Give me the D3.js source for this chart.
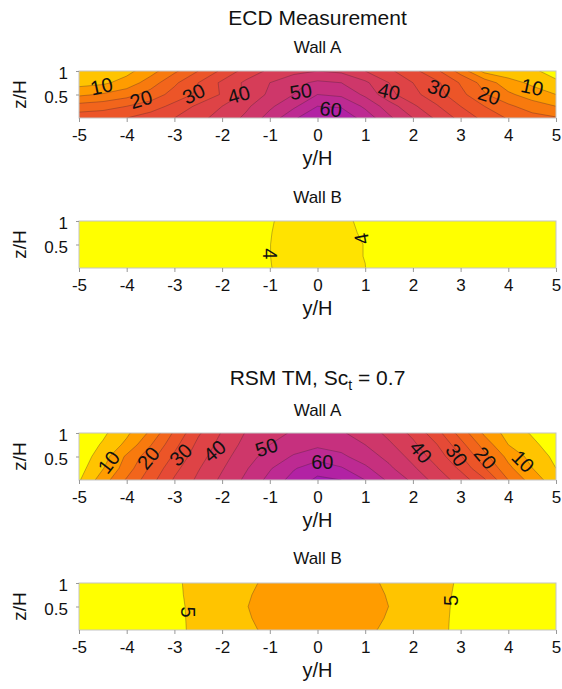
<!DOCTYPE html>
<html><head><meta charset="utf-8">
<script src="https://cdn.jsdelivr.net/npm/d3@7"></script>
<style>
body{margin:0;background:#fff}
text{font-family:"Liberation Sans",Arial,Helvetica,sans-serif;fill:#111}
</style>
</head><body>
<svg id="c" width="562" height="689"></svg>
<script>
// ---------------- DATA ----------------
const yCoords = [-5,-4.5,-4,-3.5,-3,-2.5,-2,-1.5,-1,-0.5,0,0.5,1,1.5,2,2.5,3,3.5,4,4.5,5];
const zRows = [1, 0.75, 0.5, 0.25, 0];   // grid rows, top to bottom
const xTicks = [-5,-4,-3,-2,-1,0,1,2,3,4,5];
const zTicks = [0.5, 1];

// ECD Measurement, Wall A (rows z = 1, 0.75, 0.5, 0.25, 0)
const ecdWallA = [
  [6, 7, 8.5, 13, 19, 25, 31, 37, 41, 43.5, 45,   44, 40, 36, 31.5, 26, 18, 8.5, 7, 5.7, 3.5],
  [8, 9, 12, 17.5, 24, 30, 36, 41, 45, 48.5, 51,  50, 46, 40, 35, 31, 24.5, 18, 12, 9, 5.7],
  [14, 15.5, 18, 22, 27, 31, 35.5, 41, 46, 50, 55, 54, 49, 41.5, 36.5, 32, 26.5, 20.5, 16, 12.5, 10],
  [22, 23, 25, 27.5, 31.5, 36, 40, 44, 49, 54, 60, 59.5, 54, 47.5, 41, 35.5, 30, 25, 21, 17.5, 15],
  [28, 28.5, 30, 32.5, 35, 38.5, 42, 46, 52, 59, 65, 63.5, 58, 51, 45, 39, 33.5, 28.5, 24.5, 22, 20.5]
];
// ECD Measurement, Wall B
const ecdWallB = [
  [3, 3, 3, 3, 3, 3, 3, 3, 3.93, 4.3, 4.4, 4.3, 3.7,  3, 3, 3, 3, 3, 3, 3, 3],
  [3, 3, 3, 3, 3, 3, 3, 3, 3.97, 4.3, 4.4, 4.3, 3.85, 3, 3, 3, 3, 3, 3, 3, 3],
  [3, 3, 3, 3, 3, 3, 3, 3, 3.99, 4.3, 4.4, 4.3, 3.97, 3, 3, 3, 3, 3, 3, 3, 3],
  [3, 3, 3, 3, 3, 3, 3, 3, 3.99, 4.3, 4.4, 4.3, 3.97, 3, 3, 3, 3, 3, 3, 3, 3],
  [3, 3, 3, 3, 3, 3, 3, 3, 3.97, 4.3, 4.4, 4.3, 4.02, 3, 3, 3, 3, 3, 3, 3, 3]
];
// RSM TM, Sc_t = 0.7, Wall A
const rsmWallA = [
  [1, 4, 9, 16, 25.9, 34.3, 40.4, 45.3, 48.5, 50.5, 51.5, 50.5, 48, 43.6, 38.8, 31.9, 23, 14.1, 8.1, 4.5, 2],
  [1.5, 5.6, 11.3, 19.7, 28.5, 36.3, 41.8, 46.5, 50, 52.5, 54, 53, 50, 45.9, 41.1, 35.2, 26.8, 17.9, 10, 6.1, 2.5],
  [2, 7.6, 15.9, 23, 30.9, 38, 43.2, 48, 52, 55.5, 58, 56, 52.5, 48.5, 43.3, 37.7, 30.5, 21.5, 13.6, 8.3, 3.7],
  [3, 9.7, 17.5, 25.8, 33.5, 39.6, 44.6, 49.5, 54.5, 59.5, 63, 60.5, 56, 51, 45.8, 40.4, 34, 25.4, 16.2, 10.1, 5],
  [4.5, 12.6, 20.6, 28.1, 35.6, 41, 46, 51, 56.5, 62, 66, 65, 60, 54, 49, 42.9, 37.9, 30.7, 20, 12.7, 7.1]
];
// RSM TM, Sc_t = 0.7, Wall B
const rsmWallB = [
  [4.2, 4.3, 4.4, 4.5, 4.75, 5.5, 7, 8.5,  11.5, 12, 12, 12, 11.5, 9,    7, 5.5, 4.8,  4.5, 4.4, 4.3, 4.2],
  [4.2, 4.3, 4.4, 4.5, 4.7,  5.5, 7, 9.5,  11.5, 12, 12, 12, 11.5, 9.7,  7, 5.5, 4.7,  4.5, 4.4, 4.3, 4.2],
  [4.2, 4.3, 4.4, 4.5, 4.6,  5.5, 7, 9.85, 11.5, 12, 12, 12, 11.5, 9.97, 7, 5.5, 4.62, 4.5, 4.4, 4.3, 4.2],
  [4.2, 4.3, 4.4, 4.5, 4.55, 5.5, 7, 9.5,  11.5, 12, 12, 12, 11.5, 9.6,  7, 5.5, 4.55, 4.5, 4.4, 4.3, 4.2],
  [4.2, 4.3, 4.4, 4.5, 4.5,  5.5, 7, 8.5,  11.5, 12, 12, 12, 11.5, 8.5,  7, 5.5, 4.5,  4.5, 4.4, 4.3, 4.2]
];

const levelsWallA = [0,5,10,15,20,25,30,35,40,45,50,55,60,65];
const levelsEcdB = [0,4,8];
const levelsRsmB = [0,5,10,15];

// contour labels: [y, z, text, angle]
const ecdALabels = [[-4.53,0.68,"10",-12],[-3.7,0.4,"20",-16],[-2.6,0.52,"30",-26],[-1.65,0.5,"40",-16],[-0.35,0.57,"50",-8],[0.28,0.19,"60",6],
                    [1.5,0.57,"40",12],[2.55,0.62,"30",22],[3.6,0.48,"20",18],[4.5,0.66,"10",12]];
const ecdBLabels = [[-1.0,0.3,"4",90],[0.92,0.62,"4",-100]];
const rsmALabels = [[-4.38,0.38,"10",-52],[-3.55,0.47,"20",-50],[-2.87,0.54,"30",-45],[-2.16,0.62,"40",-40],[-1.07,0.7,"50",-18],[0.1,0.38,"60",0],
                    [2.17,0.6,"40",50],[2.92,0.53,"30",55],[3.52,0.47,"20",50],[4.31,0.4,"10",45]];
const rsmBLabels = [[-2.72,0.38,"5",90],[2.8,0.63,"5",-90]];

// ---------------- DRAW ----------------
const svg = d3.select("#c");
const x = d3.scaleLinear().domain([-5,5]).range([79,556]);
const PH = 47;
const color = d3.scaleLinear()
  .domain([0,4,5,10,15,20,25,30,35,40,45,50,55,60,65])
  .range(["#ffff00","#ffe300","#ffc400","#ff9c00","#f87a0e","#f2651c","#ec5528","#e54a36","#de4346","#d63d58","#ce376a","#c6307e","#bd2a92","#b222a4","#a41ab2"])
  .clamp(true);

function panel(id, top, grid, thresholds, labels){
  const z = d3.scaleLinear().domain([0,1]).range([top+PH, top]);
  const n = yCoords.length, m = zRows.length;
  const dy = yCoords[1]-yCoords[0], dz = zRows[0]-zRows[1];
  const values = grid.flat();
  const contours = d3.contours().size([n,m]).thresholds(thresholds)(values);
  const proj = d3.geoTransform({point(px,py){
    this.stream.point(x(yCoords[0]+(px-0.5)*dy), z(zRows[0]-(py-0.5)*dz));
  }});
  const path = d3.geoPath(proj);

  svg.append("clipPath").attr("id","clip"+id)
    .append("rect").attr("x",x(-5)).attr("y",top).attr("width",x(5)-x(-5)).attr("height",PH);

  const g = svg.append("g").attr("clip-path",`url(#clip${id})`);
  g.selectAll("path.f").data(contours).join("path").attr("class","f")
    .attr("d",path).attr("fill",d=>color(d.value)).attr("stroke","none");
  g.selectAll("path.l").data(contours.filter(c=>c.value>thresholds[0])).join("path").attr("class","l")
    .attr("d",path).attr("fill","none").attr("stroke","#3a2030").attr("stroke-opacity",0.45).attr("stroke-width",0.7);

  svg.append("rect").attr("x",x(-5)).attr("y",top).attr("width",x(5)-x(-5)).attr("height",PH)
    .attr("fill","none").attr("stroke","#c4c4c4").attr("stroke-width",1);

  svg.append("g").selectAll("text").data(labels).join("text")
    .attr("transform",d=>`translate(${x(d[0])},${z(d[1])}) rotate(${d[3]})`)
    .attr("text-anchor","middle").attr("dy","0.36em")
    .attr("font-size",20).text(d=>d[2]);

  const gx = svg.append("g").attr("transform",`translate(0,${top+PH})`)
    .call(d3.axisBottom(x).tickValues(xTicks).tickSize(4).tickPadding(7).tickFormat(d=>String(d)));
  const gz = svg.append("g").attr("transform",`translate(${x(-5)},0)`)
    .call(d3.axisLeft(z).tickValues(zTicks).tickSize(3).tickPadding(8).tickFormat(d=>String(d)));
  [gx,gz].forEach(a=>{
    a.select(".domain").remove();
    a.selectAll(".tick line").attr("stroke","#999");
    a.selectAll(".tick text").attr("font-size",17).attr("fill","#111")
      .style("font-family",'"Liberation Sans",Arial,sans-serif');
  });
  gz.selectAll(".tick text").attr("dy","0.45em");

  svg.append("text").attr("transform",`translate(19,${top+PH/2}) rotate(-90)`)
    .attr("text-anchor","middle").attr("dy","0.35em").attr("font-size",19).text("z/H");
  svg.append("text").attr("x",(x(-5)+x(5))/2).attr("y",top+PH+47)
    .attr("text-anchor","middle").attr("font-size",20).text("y/H");
}

const cx = (x(-5)+x(5))/2;
svg.append("text").attr("x",cx).attr("y",25).attr("text-anchor","middle").attr("font-size",21).text("ECD Measurement");
svg.append("text").attr("x",cx).attr("y",53).attr("text-anchor","middle").attr("font-size",17).text("Wall A");
svg.append("text").attr("x",cx).attr("y",203).attr("text-anchor","middle").attr("font-size",17).text("Wall B");
const t2 = svg.append("text").attr("x",cx).attr("y",385).attr("text-anchor","middle").attr("font-size",21);
t2.append("tspan").text("RSM TM, Sc");
t2.append("tspan").attr("font-size",14).attr("dy",5).text("t");
t2.append("tspan").attr("dy",-5).text(" = 0.7");
svg.append("text").attr("x",cx).attr("y",416).attr("text-anchor","middle").attr("font-size",17).text("Wall A");
svg.append("text").attr("x",cx).attr("y",564).attr("text-anchor","middle").attr("font-size",17).text("Wall B");

panel(1, 71, ecdWallA, levelsWallA, ecdALabels);
panel(2, 221, ecdWallB, levelsEcdB, ecdBLabels);
panel(3, 433, rsmWallA, levelsWallA, rsmALabels);
panel(4, 583, rsmWallB, levelsRsmB, rsmBLabels);
</script>
</body></html>
